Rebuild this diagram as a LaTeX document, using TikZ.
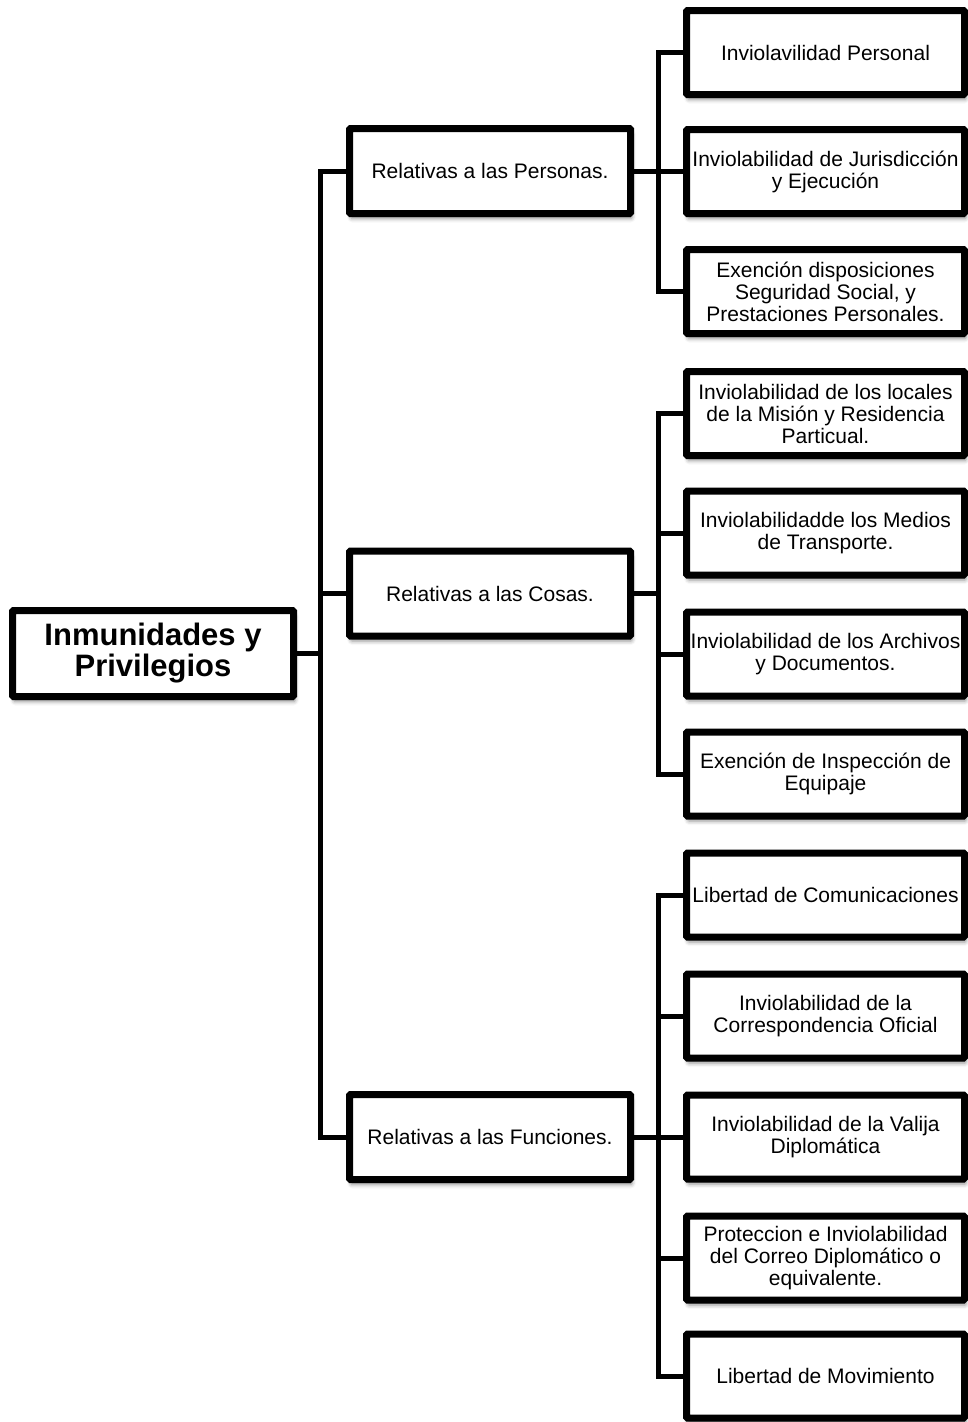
\documentclass[tikz,border=0pt]{standalone}
\usepackage{fontspec}
\setmainfont{Liberation Sans}
\usetikzlibrary{shadows.blur}
\begin{document}
\begin{tikzpicture}[x=1pt,y=-1pt,
  box/.style={draw=black, line width=7pt, fill=white, rounded corners=1pt,
    inner sep=0pt, align=center, font=\fontsize{21}{22}\selectfont,
    blur shadow={shadow xshift=1.5pt, shadow yshift=-5pt,
      shadow blur radius=4pt, shadow opacity=45}},
  leaf/.style={box, minimum width=278pt, minimum height=84pt},
  mid/.style={box, minimum width=281pt, minimum height=85pt},
  rootbox/.style={box, minimum width=281pt, minimum height=86pt,
    font=\fontsize{31}{31}\selectfont\bfseries},
  conn/.style={draw=black, line width=5pt}]

\useasboundingbox (0,0) rectangle (967,1422);

% main topic
\node[rootbox] (root) at (153,653.5) {Inmunidades y\\Privilegios};

% categories
\node[mid] (m1) at (490,171) {Relativas a las Personas.};
\node[mid] (m2) at (490,593.5) {Relativas a las Cosas.};
\node[mid] (m3) at (490,1137) {Relativas a las Funciones.};

% persons
\node[leaf] (l1) at (825.5,52.5) {Inviolavilidad Personal};
\node[leaf] (l2) at (825.5,171.5) {Inviolabilidad de Jurisdicción\\y Ejecución};
\node[leaf] (l3) at (825.5,291.5) {Exención disposiciones\\Seguridad Social, y\\Prestaciones Personales.};
% things
\node[leaf] (l4) at (825.5,413.5) {Inviolabilidad de los locales\\de la Misión y Residencia\\Particual.};
\node[leaf] (l5) at (825.5,533) {Inviolabilidadde los Medios\\de Transporte.};
\node[leaf] (l6) at (825.5,654) {Inviolabilidad de los Archivos\\y Documentos.};
\node[leaf] (l7) at (825.5,774) {Exención de Inspección de\\Equipaje};
% functions
\node[leaf] (l8) at (825.5,895) {Libertad de Comunicaciones};
\node[leaf] (l9) at (825.5,1016) {Inviolabilidad de la\\Correspondencia Oficial};
\node[leaf] (l10) at (825.5,1137) {Inviolabilidad de la Valija\\Diplomática};
\node[leaf] (l11) at (825.5,1258) {Proteccion e Inviolabilidad\\del Correo Diplomático o\\equivalente.};
\node[leaf] (l12) at (825.5,1376) {Libertad de Movimiento};

% bus junctions
\coordinate (b0) at (320,653.5);
\coordinate (b1) at (658,171);
\coordinate (b2) at (658,593.5);
\coordinate (b3) at (658,1137);

% connectors
\draw[conn] (root.east) -- (b0);
\foreach \m in {m1,m2,m3} \draw[conn] (b0) |- (\m.west);

\draw[conn] (m1.east) -- (b1);
\foreach \l in {l1,l2,l3} \draw[conn] (b1) |- (\l.west);

\draw[conn] (m2.east) -- (b2);
\foreach \l in {l4,l5,l6,l7} \draw[conn] (b2) |- (\l.west);

\draw[conn] (m3.east) -- (b3);
\foreach \l in {l8,l9,l10,l11,l12} \draw[conn] (b3) |- (\l.west);
\end{tikzpicture}
\end{document}
